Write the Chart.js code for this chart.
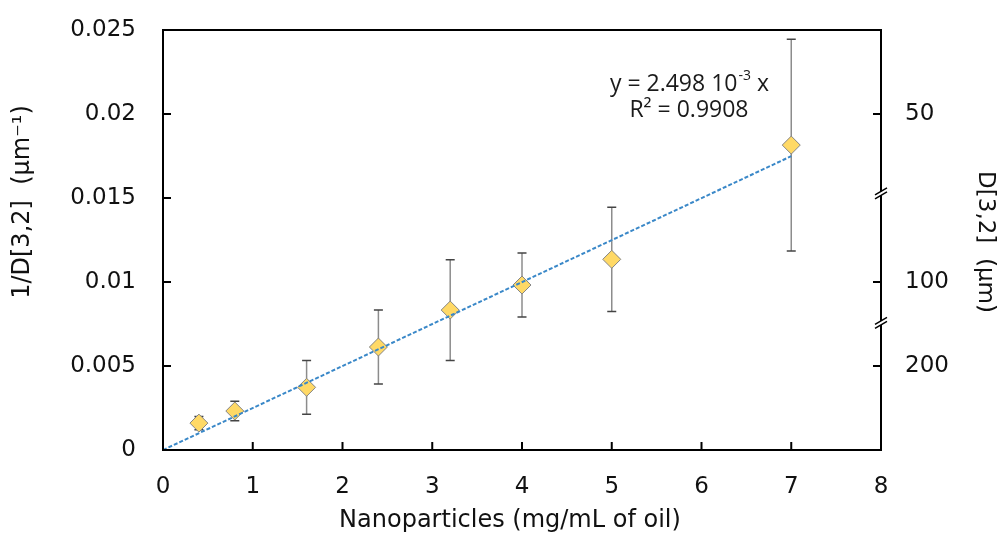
<!DOCTYPE html>
<html>
<head>
<meta charset="utf-8">
<script src="https://cdn.jsdelivr.net/npm/chart.js@4"></script>
<style>
	html, body { margin: 0; padding: 0; background: #fff; }
	#wrap { width: 1003px; height: 536px; }
</style>
</head>
<body>
<div id="wrap"><canvas id="chart" width="1003" height="536"></canvas></div>
<script>
// Values
const concentration = [ 0.4, 0.8, 1.6, 2.4, 3.2, 4, 5, 7 ];
const inverseD32 = [ 0.0016, 0.00232, 0.00373, 0.00613, 0.00833, 0.00982, 0.01135, 0.01815 ];
const errD32 = [ 0.0004, 0.00058, 0.0016, 0.0022, 0.003, 0.0019, 0.0031, 0.0063 ];

const trendX = [ 0, 7 ];
const trendY = [ 0, 0.01749 ];

const xTicks = [ 0, 1, 2, 3, 4, 5, 6, 7, 8 ];
const leftTicks = [ 0, 0.005, 0.01, 0.015, 0.02, 0.025 ];
const rightTickValues = [ 0.02, 0.01, 0.005 ];
const rightTickLabels = [ '50', '100', '200' ];
const rightBreaks = [ 0.0153, 0.0076 ];

const equationText = [ 'y = 2.498 10', '-3', ' x' ];
const r2Text = 'R² = 0.9908';
const xTitle = 'Nanoparticles (mg/mL of oil)';
const yTitle = '1/D[3,2]  (µm⁻¹)';
const y2Title = 'D[3,2]  (µm)';

const tickFont = { family: 'DejaVu Sans', size: 23 };
const ink = '#111';

function noEdgePadding( s ) {
	s.paddingTop = 0;
	s.paddingBottom = 0;
	s.paddingLeft = 0;
	s.paddingRight = 0;
}

// Error bars, drawn under the markers
const errorBars = {
	id: 'errorBars',
	beforeDatasetsDraw( chart ) {
		const ctx = chart.ctx, x = chart.scales.x, y = chart.scales.y;
		ctx.save();
		for ( let i = 0; i < concentration.length; i++ ) {
			const px = x.getPixelForValue( concentration[ i ] );
			const top = y.getPixelForValue( inverseD32[ i ] + errD32[ i ] );
			const bot = y.getPixelForValue( inverseD32[ i ] - errD32[ i ] );
			ctx.strokeStyle = '#8c8c8c';
			ctx.lineWidth = 1.5;
			ctx.beginPath();
			ctx.moveTo( px, top );
			ctx.lineTo( px, bot );
			ctx.stroke();
			ctx.strokeStyle = '#444';
			ctx.beginPath();
			ctx.moveTo( px - 4.5, top );
			ctx.lineTo( px + 4.5, top );
			ctx.moveTo( px - 4.5, bot );
			ctx.lineTo( px + 4.5, bot );
			ctx.stroke();
		}
		ctx.restore();
	}
};

// Frame, inward ticks, axis breaks, titles and the fit equation
const frame = {
	id: 'frame',
	afterDraw( chart ) {
		const ctx = chart.ctx, a = chart.chartArea;
		const x = chart.scales.x, y = chart.scales.y;
		ctx.save();
		ctx.strokeStyle = '#000';
		ctx.lineWidth = 2;
		ctx.strokeRect( a.left, a.top, a.right - a.left, a.bottom - a.top );

		ctx.beginPath();
		xTicks.forEach( function ( v ) {
			const px = x.getPixelForValue( v );
			ctx.moveTo( px, a.bottom );
			ctx.lineTo( px, a.bottom - 8 );
		} );
		leftTicks.forEach( function ( v ) {
			const py = y.getPixelForValue( v );
			ctx.moveTo( a.left, py );
			ctx.lineTo( a.left + 8, py );
		} );
		rightTickValues.forEach( function ( v ) {
			const py = y.getPixelForValue( v );
			ctx.moveTo( a.right, py );
			ctx.lineTo( a.right - 8, py );
		} );
		ctx.stroke();

		// break marks on the right axis
		rightBreaks.forEach( function ( v ) {
			const py = y.getPixelForValue( v );
			ctx.fillStyle = '#fff';
			ctx.beginPath();
			ctx.moveTo( a.right - 6, py + 2 );
			ctx.lineTo( a.right + 6, py - 5 );
			ctx.lineTo( a.right + 6, py - 1 );
			ctx.lineTo( a.right - 6, py + 6 );
			ctx.closePath();
			ctx.fill();
			ctx.strokeStyle = '#000';
			ctx.lineWidth = 1.5;
			ctx.beginPath();
			ctx.moveTo( a.right - 6, py + 2 );
			ctx.lineTo( a.right + 6, py - 5 );
			ctx.moveTo( a.right - 6, py + 6 );
			ctx.lineTo( a.right + 6, py - 1 );
			ctx.stroke();
		} );

		// axis titles
		ctx.fillStyle = ink;
		ctx.textAlign = 'center';
		ctx.textBaseline = 'middle';
		ctx.font = '24px "DejaVu Sans"';
		ctx.fillText( xTitle, 510, 521 );
		ctx.save();
		ctx.translate( 23, 202 );
		ctx.rotate( -Math.PI / 2 );
		ctx.fillText( yTitle, 0, 0 );
		ctx.restore();
		ctx.save();
		ctx.font = '23px "DejaVu Sans"';
		ctx.translate( 985, 242 );
		ctx.rotate( Math.PI / 2 );
		ctx.fillText( y2Title, 0, 0 );
		ctx.restore();

		// equation
		const cx = x.getPixelForValue( 5.86 );
		const y1 = 84, y2 = 110;
		ctx.fillStyle = '#1a1a1a';
		const big = '23px "Open Sans"', small = '14px "Open Sans"';
		ctx.font = big;
		const w0 = ctx.measureText( equationText[ 0 ] ).width;
		const w2 = ctx.measureText( equationText[ 2 ] ).width;
		ctx.font = small;
		const w1 = ctx.measureText( equationText[ 1 ] ).width;
		let sx = cx - ( w0 + w1 + w2 ) / 2;
		ctx.textAlign = 'left';
		ctx.font = big;
		ctx.fillText( equationText[ 0 ], sx, y1 );
		ctx.font = small;
		ctx.fillText( equationText[ 1 ], sx + w0 + 1, y1 - 8 );
		ctx.font = big;
		ctx.fillText( equationText[ 2 ], sx + w0 + w1 + 1, y1 );
		ctx.textAlign = 'center';
		ctx.fillText( r2Text, cx, y2 );
		ctx.restore();
	}
};

new Chart( 'chart', {
	data: {
		datasets: [ {
			type: 'line',
			data: trendX.map( function ( v, i ) { return { x: v, y: trendY[ i ] }; } ),
			borderColor: '#3a88c8',
			borderWidth: 2,
			borderDash: [ 4, 2 ],
			pointRadius: 0,
			fill: false,
			order: 0
		}, {
			type: 'scatter',
			data: concentration.map( function ( v, i ) { return { x: v, y: inverseD32[ i ] }; } ),
			pointStyle: 'rectRot',
			pointRadius: 9,
			backgroundColor: '#ffd966',
			borderColor: '#858585',
			borderWidth: 1,
			order: 1
		} ]
	},
	options: {
		responsive: false,
		animation: false,
		devicePixelRatio: 1,
		layout: { padding: { top: 30, left: 0, right: 0, bottom: 0 } },
		plugins: {
			legend: { display: false },
			tooltip: { enabled: false }
		},
		scales: {
			x: {
				type: 'linear',
				min: 0,
				max: 8,
				afterBuildTicks: function ( s ) { s.ticks = xTicks.map( function ( v ) { return { value: v }; } ); },
				ticks: { font: tickFont, color: ink, padding: 23, callback: function ( v ) { return String( v ); } },
				grid: { display: false, drawTicks: false },
				border: { display: false },
				afterFit: function ( s ) { s.height = 86; noEdgePadding( s ); }
			},
			y: {
				position: 'left',
				min: 0,
				max: 0.025,
				afterBuildTicks: function ( s ) { s.ticks = leftTicks.map( function ( v ) { return { value: v }; } ); },
				ticks: { font: tickFont, color: ink, padding: 27, callback: function ( v ) { return String( v ); } },
				grid: { display: false, drawTicks: false },
				border: { display: false },
				afterFit: function ( s ) { s.width = 163; noEdgePadding( s ); }
			},
			y2: {
				position: 'right',
				min: 0,
				max: 0.025,
				afterBuildTicks: function ( s ) { s.ticks = rightTickValues.map( function ( v ) { return { value: v }; } ); },
				ticks: {
					font: tickFont,
					color: ink,
					padding: 24,
					callback: function ( v ) { return rightTickLabels[ rightTickValues.indexOf( v ) ]; }
				},
				grid: { display: false, drawTicks: false },
				border: { display: false },
				afterFit: function ( s ) { s.width = 122; noEdgePadding( s ); }
			}
		}
	},
	plugins: [ errorBars, frame ]
} );
</script>
</body>
</html>
